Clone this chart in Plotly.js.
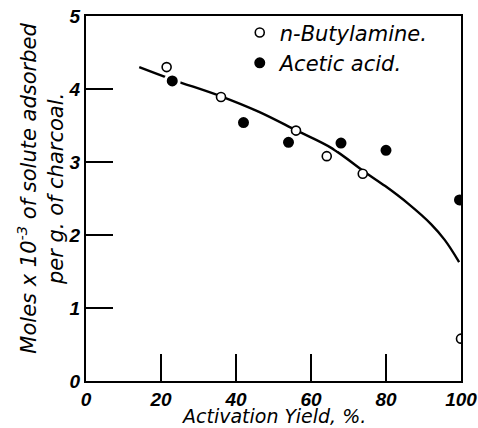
<!DOCTYPE html>
<html>
<head>
<meta charset="utf-8">
<script src="https://cdn.plot.ly/plotly-3.0.1.min.js"></script>
<style>html,body{margin:0;padding:0;background:#fff;}#chart{width:478px;height:428px;}</style>
</head>
<body>
<div id="chart"></div>
<script>
// n-Butylamine (open circles)
const butylX = [21.5, 36, 56, 64.2, 73.8, 100];
const butylY = [4.3, 3.89, 3.43, 3.08, 2.84, 0.58];
// Acetic acid (filled circles)
const aceticX = [23, 42, 54, 68, 80, 99.6];
const aceticY = [4.11, 3.54, 3.27, 3.26, 3.16, 2.48];
// Smooth fitted curve
const curveX = [14.2, 23, 36, 46, 56.2, 65.5, 74.4, 79.8, 85.9, 92, 95.7, 99.5];
const curveY = [4.30, 4.13, 3.90, 3.69, 3.43, 3.19, 2.86, 2.67, 2.43, 2.15, 1.93, 1.63];
const xTicks = [0, 20, 40, 60, 80, 100];
const yTicks = [0, 1, 2, 3, 4, 5];
const xTitle = 'Activation Yield, %.';
const yTitle = 'Moles x 10<sup>-3</sup> of solute adsorbed<br>per g. of charcoal.';

const fam = '"DejaVu Sans", "Liberation Sans", sans-serif';
const tickFam = '"Liberation Sans", Arial, sans-serif';

const traces = [
  {x: curveX, y: curveY, mode: 'lines', line: {color: '#000', width: 2.4, shape: 'spline', smoothing: 1},
   showlegend: false, hoverinfo: 'skip'},
  {x: butylX, y: butylY, mode: 'markers', name: 'n-Butylamine.',
   marker: {symbol: 'circle', size: 9, color: '#fff', line: {color: '#000', width: 1.6}}},
  {x: aceticX, y: aceticY, mode: 'markers', name: 'Acetic acid.',
   marker: {symbol: 'circle', size: 14, color: '#000', line: {color: '#fff', width: 3}}}
];

const tickFont = {family: tickFam, size: 19, color: '#000', style: 'italic', weight: 'bold'};

const layout = {
  width: 478, height: 428,
  margin: {l: 86, r: 17, t: 14, b: 47},
  paper_bgcolor: '#fff', plot_bgcolor: '#fff',
  showlegend: true,
  legend: {x: 0.41, y: 1.01, xanchor: 'left', yanchor: 'top', bgcolor: 'rgba(0,0,0,0)',
    font: {family: fam, size: 21, color: '#000', style: 'italic'}, itemwidth: 30, tracegroupgap: 0},
  xaxis: {range: [0, 100], tickvals: xTicks, ticktext: xTicks.map(String),
    ticks: 'inside', ticklen: 27, tickwidth: 2, tickcolor: '#000',
    showline: true, linecolor: '#000', linewidth: 2, mirror: true, layer: 'below traces',
    showgrid: false, zeroline: false, ticklabeloverflow: 'allow',
    tickfont: tickFont},
  yaxis: {range: [0, 5], tickvals: yTicks, ticktext: yTicks.map(String),
    ticks: 'inside', ticklen: 27, tickwidth: 2, tickcolor: '#000',
    showline: true, linecolor: '#000', linewidth: 2, mirror: true, layer: 'below traces',
    showgrid: false, zeroline: false, ticklabeloverflow: 'allow',
    tickfont: tickFont},
  annotations: [
    {text: xTitle, xref: 'paper', yref: 'paper', x: 0.5, y: -0.095, xanchor: 'center', yanchor: 'middle',
     showarrow: false, font: {family: fam, size: 19, color: '#000', style: 'italic'}},
    {text: yTitle, xref: 'paper', yref: 'paper', x: -0.12, y: 0.527, xanchor: 'center', yanchor: 'middle',
     textangle: -90, showarrow: false, font: {family: fam, size: 21, color: '#000', style: 'italic'}}
  ]
};

Plotly.newPlot('chart', traces, layout, {displayModeBar: false, staticPlot: true});
</script>
</body>
</html>
